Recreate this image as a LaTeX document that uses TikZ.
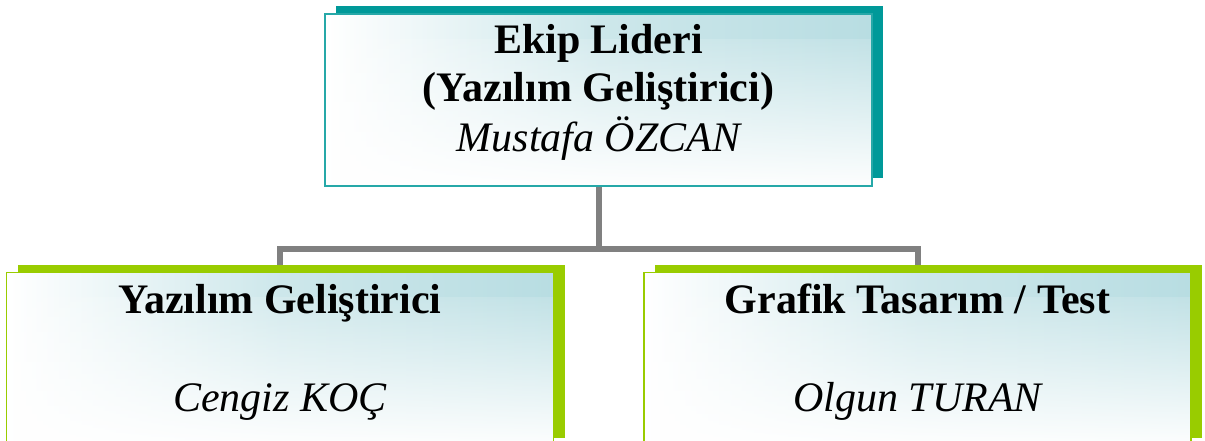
\documentclass[tikz,border=0pt]{standalone}
\usepackage{fontspec}
\setmainfont{Liberation Serif}
\usetikzlibrary{shadows,backgrounds,fadings}
\definecolor{tealdark}{RGB}{0,153,153}
\definecolor{tealline}{RGB}{38,168,168}
\definecolor{leafgreen}{RGB}{153,204,0}
\definecolor{boxblue}{RGB}{184,221,226}
\definecolor{conngray}{RGB}{128,128,128}
\tikzset{
  x=1pt, y=1pt,
  basebox/.style={minimum width=547pt, inner sep=0pt, outer sep=0pt,
    left color=white, right color=boxblue, middle color=white!30!boxblue,
    path picture={\fill[white, path fading=north]
      ([yshift=-4pt]path picture bounding box.south west) rectangle
      ([yshift=-25pt]path picture bounding box.north east);}},
  leadbox/.style={basebox, minimum height=172pt, draw=tealline, line width=1.6pt,
    drop shadow={shadow xshift=11pt, shadow yshift=8pt, fill=tealdark, opacity=1}},
  teambox/.style={basebox, minimum height=173pt, draw=leafgreen, line width=1.6pt,
    drop shadow={shadow xshift=11pt, shadow yshift=8pt, fill=leafgreen, opacity=1}},
  conn/.style={draw=conngray, line width=6pt, line join=miter},
  title/.style={font=\fontsize{42}{50}\selectfont\bfseries, anchor=base, inner sep=0pt},
  person/.style={font=\fontsize{42}{50}\selectfont\itshape, anchor=base, inner sep=0pt}
}
\begin{document}
\begin{tikzpicture}
\useasboundingbox (0,0) rectangle (1205,-441);
% boxes
\node[leadbox] (lead) at (598.5,-100) {};
\node[teambox] (dev) at (280,-359) {};
\node[teambox] (gfx) at (917.5,-359) {};
% connectors
\coordinate (bus) at (598.5,-248.5);
\begin{scope}[on background layer]
  \draw[conn] (lead.south) -- (bus);
  \draw[conn] (dev.north) |- (bus) -| (gfx.north);
\end{scope}
% texts
\node[title]  (l1) at ([yshift=-40pt]lead.north) {Ekip Lideri};
\node[title]  (l2) at ([yshift=-88pt]lead.north) {(Yazılım Geliştirici)};
\node[person] (l3) at ([yshift=-138pt]lead.north) {Mustafa ÖZCAN};
\node[title]  (d1) at ([yshift=-41pt]dev.north) {Yazılım Geliştirici};
\node[person] (d2) at ([yshift=-139pt]dev.north) {Cengiz KOÇ};
\node[title]  (g1) at ([yshift=-41pt]gfx.north) {Grafik Tasarım / Test};
\node[person] (g2) at ([yshift=-139pt]gfx.north) {Olgun TURAN};
\end{tikzpicture}
\end{document}
